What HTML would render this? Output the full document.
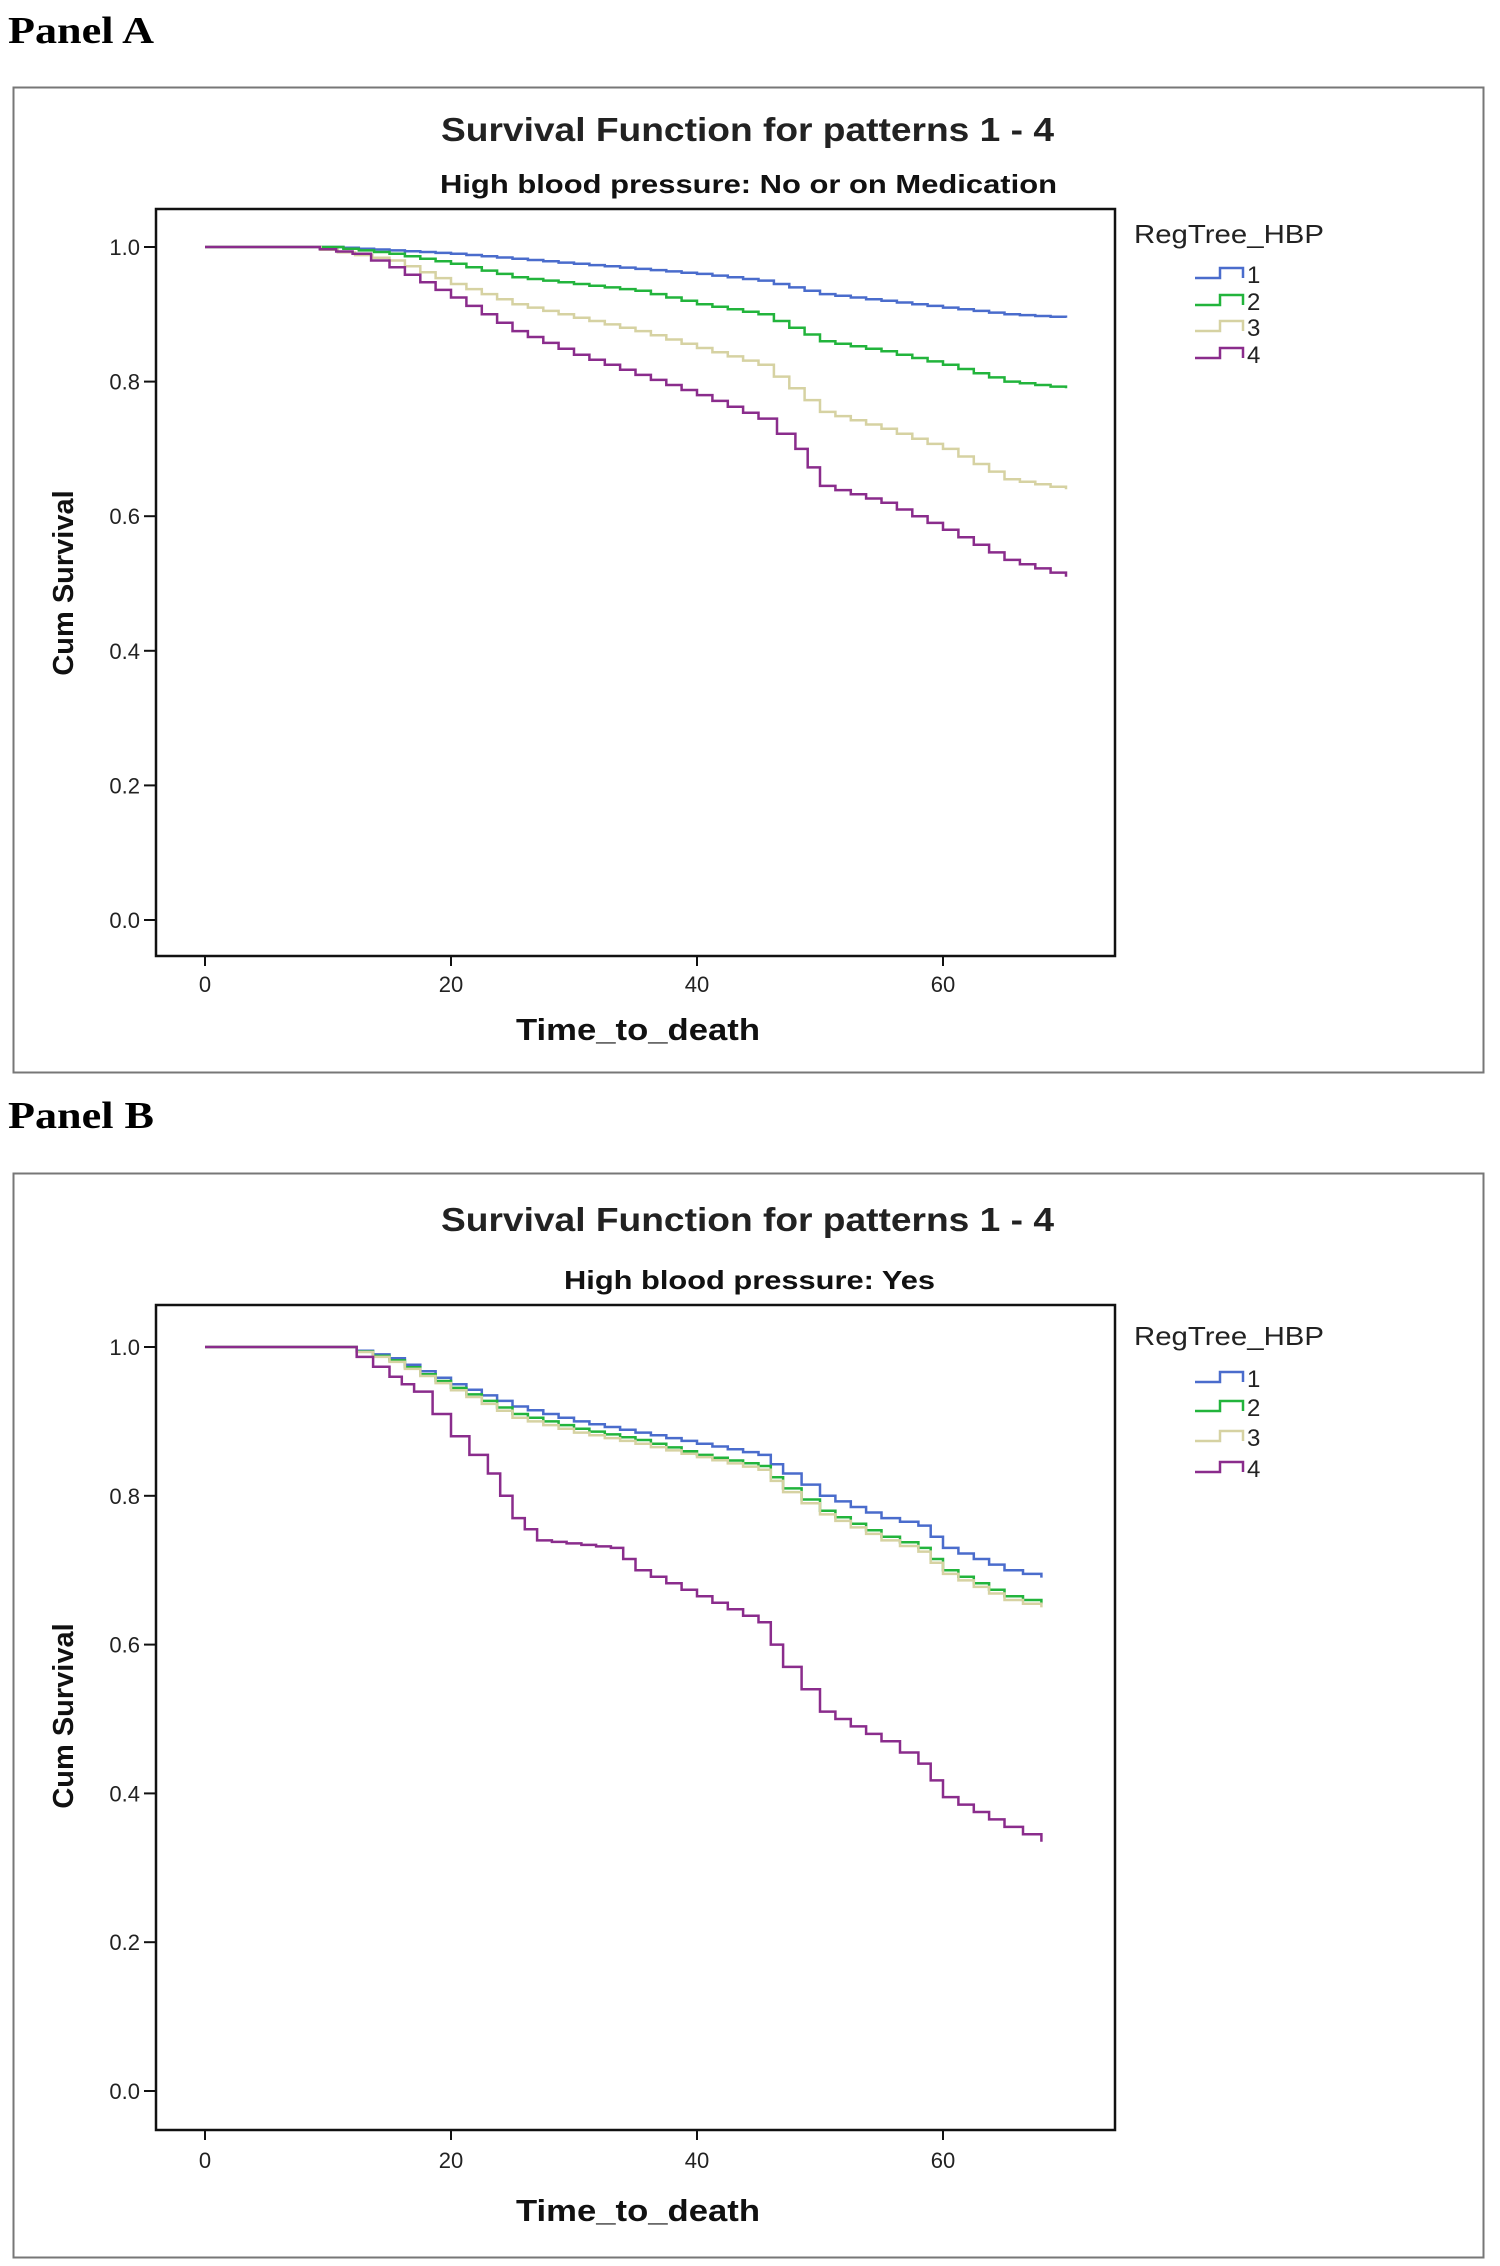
<!DOCTYPE html>
<html><head><meta charset="utf-8"><style>
html,body{margin:0;padding:0;background:#fff;}
svg text{font-family:"Liberation Sans",sans-serif;}
</style></head><body>
<svg id="s" width="1500" height="2261" xmlns="http://www.w3.org/2000/svg">
<rect width="1500" height="2261" fill="#fff"/>
<text x="8" y="43" font-weight="bold" font-size="38" textLength="146" lengthAdjust="spacingAndGlyphs" style="font-family:'Liberation Serif',serif">Panel A</text>
<text x="8" y="1128" font-weight="bold" font-size="38" textLength="146" lengthAdjust="spacingAndGlyphs" style="font-family:'Liberation Serif',serif">Panel B</text>
<g id="A"></g><g id="B"></g>
</svg>
<script>
const NS="http://www.w3.org/2000/svg";
function el(p,t,a,txt){const e=document.createElementNS(NS,t);for(const k in a)e.setAttribute(k,a[k]);if(txt!=null)e.textContent=txt;p.appendChild(e);return e;}
const cols=["#4a6ccc","#22b43c","#d6d2a2","#8a2c8c"];
function panel(g,o){
 el(g,"rect",{x:13.5,y:o.fy+0.5,width:1470,height:o.fh,fill:"none",stroke:"#777","stroke-width":2});
 el(g,"text",{x:441,y:o.ty,"font-size":33,"font-weight":"bold",fill:"#222",textLength:o.tw,lengthAdjust:"spacingAndGlyphs"},"Survival Function for patterns 1 - 4");
 el(g,"text",{x:o.sx,y:o.sy,"font-size":26,"font-weight":"bold",fill:"#111",textLength:o.sw,lengthAdjust:"spacingAndGlyphs"},o.sub);
 el(g,"rect",{x:156,y:o.py,width:959,height:o.ph,fill:"none",stroke:"#111","stroke-width":2.5});
 const X=t=>205+t*12.3, Y=v=>o.y0-v*o.k;
 for(let i=0;i<=5;i++){const v=i/5,y=Y(v);
  el(g,"line",{x1:144,y1:y,x2:156,y2:y,stroke:"#111","stroke-width":2});
  el(g,"text",{x:140,y:y+8,"text-anchor":"end","font-size":22,fill:"#222"},v.toFixed(1));}
 for(const t of [0,20,40,60]){const x=X(t);
  el(g,"line",{x1:x,y1:o.py+o.ph,x2:x,y2:o.py+o.ph+10,stroke:"#111","stroke-width":2});
  el(g,"text",{x:x,y:o.xl,"text-anchor":"middle","font-size":22,fill:"#222"},String(t));}
 el(g,"text",{x:516,y:o.xt,"font-size":31,"font-weight":"bold",fill:"#111",textLength:244,lengthAdjust:"spacingAndGlyphs"},"Time_to_death");
 el(g,"text",{x:0,y:0,"text-anchor":"middle","font-size":29,"font-weight":"bold",fill:"#111",transform:`translate(73,${o.cy}) rotate(-90)`},"Cum Survival");
 el(g,"text",{x:1134,y:o.ly,"font-size":26,fill:"#222",textLength:190,lengthAdjust:"spacingAndGlyphs"},"RegTree_HBP");
 o.items.forEach((y,i)=>{
  el(g,"path",{d:`M1195 ${y+5}H1220V${y-5}H1243V${y+5}`,fill:"none",stroke:cols[i],"stroke-width":2.5});
  el(g,"text",{x:1247,y:y+10,"font-size":24,fill:"#222"},String(i+1));});
 o.curves.forEach((pts,i)=>{
  let d=`M${X(0)} ${Y(1)}`;let prev=pts[0];d+=`H${X(prev[0])}`;
  for(let j=1;j<pts.length;j++){const [t0,v0]=prev,[t1,v1]=pts[j];const n=Math.max(2,Math.round((t1-t0)/1.3));
   for(let s=1;s<=n;s++){const t=t0+(t1-t0)*s/n,v=v0+(v1-v0)*s/n;d+=`H${X(t).toFixed(1)}V${Y(v).toFixed(1)}`;}
   prev=pts[j];}
  el(g,"path",{d:d,fill:"none",stroke:cols[i],"stroke-width":2.5});
 });
}
panel(document.getElementById("A"),{fy:87,fh:985,ty:141,tw:613,sx:440,sy:193,sw:617,py:209,ph:747,y0:920,k:673,xl:992,xt:1040,cy:583,ly:243,items:[273,300,326,353],sub:"High blood pressure: No or on Medication",
curves:[
[[10,1],[20,0.99],[30,0.975],[40,0.96],[45,0.95],[50,0.93],[60,0.91],[65,0.90],[70,0.895]],
[[10,1],[15,0.99],[20,0.975],[25,0.955],[35,0.935],[40,0.915],[45,0.90],[50,0.86],[55,0.845],[60,0.825],[65,0.80],[70,0.79]],
[[8,1],[15,0.98],[20,0.945],[25,0.915],[30,0.895],[35,0.875],[40,0.85],[45,0.825],[50,0.755],[55,0.73],[60,0.70],[65,0.655],[70,0.64]],
[[8,1],[12,0.99],[15,0.97],[20,0.925],[25,0.875],[30,0.84],[35,0.81],[40,0.78],[45,0.745],[48,0.7],[50,0.645],[55,0.62],[60,0.58],[65,0.535],[70,0.51]]]});
panel(document.getElementById("B"),{fy:1173,fh:1084,ty:1231,tw:613,sx:564,sy:1289,sw:371,py:1305,ph:825,y0:2091,k:744,xl:2168,xt:2221,cy:1716,ly:1345,items:[1377,1406,1436,1467],sub:"High blood pressure: Yes",
curves:[
[[11,1],[15,0.985],[20,0.95],[25,0.92],[30,0.9],[35,0.885],[40,0.87],[45,0.855],[47,0.83],[50,0.8],[55,0.77],[58,0.76],[60,0.73],[65,0.70],[68,0.69]],
[[11,1],[15,0.982],[20,0.945],[25,0.91],[30,0.89],[35,0.875],[40,0.855],[45,0.84],[47,0.81],[50,0.78],[55,0.745],[58,0.73],[60,0.70],[65,0.665],[68,0.655]],
[[11,1],[15,0.98],[20,0.942],[25,0.905],[30,0.885],[35,0.87],[40,0.852],[45,0.835],[47,0.805],[50,0.775],[55,0.74],[58,0.725],[60,0.695],[65,0.66],[68,0.65]],
[[11,1],[15,0.96],[17,0.94],[20,0.88],[23,0.83],[25,0.77],[27,0.74],[33,0.73],[35,0.70],[40,0.665],[45,0.63],[47,0.57],[50,0.51],[55,0.47],[58,0.44],[60,0.395],[65,0.355],[68,0.335]]]});
</script>
</body></html>
